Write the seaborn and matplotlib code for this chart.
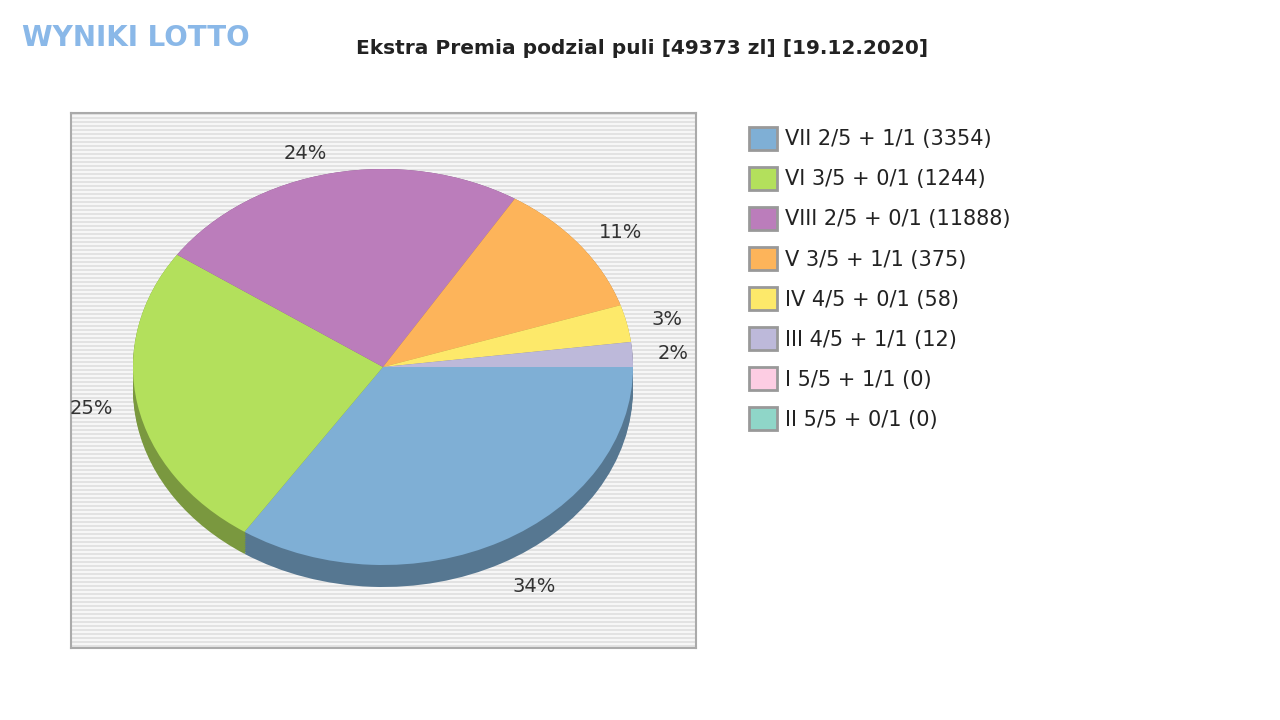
import matplotlib
matplotlib.use("Agg")
import matplotlib.pyplot as plt
import matplotlib.patches as mpatches
import seaborn as sns
import numpy as np

sns.set_theme(style="white")
plt.rcParams['font.family'] = ['DejaVu Sans']

categories = ["VII 2/5 + 1/1 (3354)", "VI 3/5 + 0/1 (1244)", "VIII 2/5 + 0/1 (11888)",
              "V 3/5 + 1/1 (375)", "IV 4/5 + 0/1 (58)", "III 4/5 + 1/1 (12)",
              "I 5/5 + 1/1 (0)", "II 5/5 + 0/1 (0)"]
shares = [34, 25, 24, 11, 3, 2, 0, 0]
pct_labels = ["34%", "25%", "24%", "11%", "3%", "2%", "", ""]
colors = ["#7fafd5", "#b3e05c", "#bb7dbb", "#fdb45a", "#fde96a", "#bdb9da", "#fdcde3", "#8fd6c8"]
title = "Ekstra Premia podzial puli [49373 zl] [19.12.2020]"

def darken(c, f=0.68):
    r, g, b = matplotlib.colors.to_rgb(c)
    return (r * f, g * f, b * f)

fig = plt.figure(figsize=(12.8, 7.2), dpi=100)
ax = fig.add_axes([71/1280, 72/720, 625/1280, 535/720])
ax.set_facecolor("#e2e2e2")
for y in np.arange(-1.5, 1.4, 4/198):
    ax.axhline(y, color="#f6f6f6", lw=1.5, zorder=0)

depth = 22/198
for d in np.linspace(depth, 0.0, 12):
    ax.pie(shares, colors=[darken(c) for c in colors], startangle=0, counterclock=False,
           center=(0, -d), radius=1, frame=True, wedgeprops=dict(linewidth=0))
wedges, texts = ax.pie(shares, colors=colors, startangle=0, counterclock=False, center=(0, 0), radius=1,
       labels=pct_labels, labeldistance=1.1, frame=True,
       textprops=dict(fontsize=14, color="#333333"), wedgeprops=dict(linewidth=0))
x, y = texts[0].get_position()
texts[0].set_position((x, y - 0.14))

ax.set_aspect("auto")
ax.set_xlim(-312/250, 313/250)
ax.set_ylim(-281/198, 254/198)
ax.set_xticks([]); ax.set_yticks([])
for s in ax.spines.values():
    s.set_color("#aaaaaa"); s.set_linewidth(1.5)

fig.text(642/1280, 1 - 48/720, title, ha="center", va="center", fontsize=14.5, fontweight="bold", color="#222222")
fig.text(22/1280, 1 - 38/720, "WYNIKI LOTTO", ha="left", va="center", fontsize=20,
         fontweight="bold", color="#8ab8e8")

handles = [mpatches.Patch(facecolor=c, edgecolor="#999999", linewidth=2) for c in colors]
fig.legend(handles, categories, loc="upper left", bbox_to_anchor=(730/1280, 1 - 108/720),
           frameon=False, fontsize=15, labelspacing=0.80, handlelength=1.35, handleheight=1.35,
           handletextpad=0.4, labelcolor="#222222")

fig.savefig("out.png", dpi=100)
